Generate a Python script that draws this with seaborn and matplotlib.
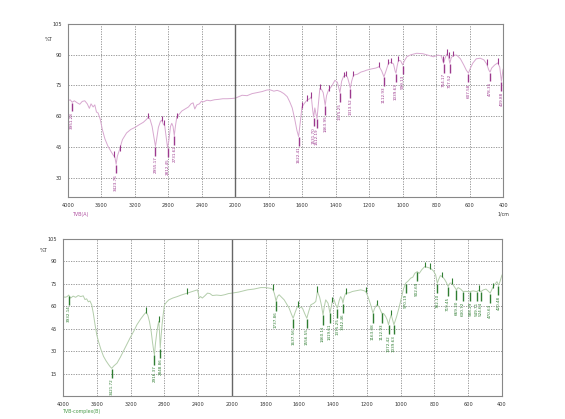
import numpy as np
import seaborn as sns
import matplotlib.pyplot as plt
from matplotlib.ticker import FixedLocator

# ---- top spectrum (pink) ----
top_wn = [4000, 3975, 3950, 3925, 3890, 3860, 3830, 3800, 3770, 3745, 3725, 3700, 3680, 3660,
          3640, 3615, 3590, 3560, 3525, 3490, 3460, 3440, 3425, 3410, 3385, 3350, 3300, 3250,
          3200, 3150, 3100, 3060, 3040, 3020, 2995, 2975, 2955, 2940, 2920, 2895, 2880, 2860,
          2845, 2825, 2810, 2795, 2775, 2760, 2745, 2730, 2715, 2700, 2670, 2640, 2600, 2560,
          2530, 2505, 2485, 2460, 2430, 2405, 2380, 2340, 2300, 2250, 2200, 2150, 2100, 2050,
          2000, 1960, 1930, 1900, 1870, 1840, 1810, 1790, 1770, 1750, 1730, 1710, 1690, 1675,
          1660, 1645, 1632, 1622, 1612, 1602, 1585, 1570, 1555, 1546, 1538, 1532, 1525, 1518,
          1512, 1504, 1495, 1485, 1475, 1463, 1455, 1443, 1425, 1405, 1390, 1375, 1365, 1353,
          1340, 1330, 1318, 1313, 1305, 1294, 1270, 1250, 1230, 1214, 1190, 1160, 1140, 1125,
          1112, 1100, 1085, 1070, 1055, 1045, 1040, 1033, 1025, 1012, 1000, 990, 975, 950, 916,
          880, 850, 816, 790, 770, 760, 755, 748, 737, 726, 718, 710, 697, 677, 655, 635, 620,
          607, 595, 580, 560, 537, 515, 498, 485, 478, 468, 450, 432, 420, 410, 405, 400]
top_t = [67.5, 68.0, 66.8, 67.5, 66.5, 65.8, 67.2, 67.5, 66.0, 63.8, 66.0, 64.5, 65.5, 62.0,
         61.5, 58.5, 53.5, 49.0, 45.5, 43.0, 41.0, 40.0, 36.5, 40.5, 43.5, 48.5, 51.8, 53.5,
         54.5, 55.8, 57.0, 58.5, 59.5, 58.5, 55.0, 50.0, 45.2, 49.0, 54.5, 57.5, 58.0, 56.0,
         55.5, 49.0, 44.5, 48.0, 55.0, 56.5, 55.0, 50.5, 55.5, 59.5, 61.0, 62.5, 63.5, 64.5,
         66.0, 66.5, 63.5, 65.5, 66.0, 67.3, 67.0, 67.8, 67.5, 68.0, 68.2, 68.5, 68.5, 68.6,
         68.8, 70.2, 70.0, 71.0, 71.5, 72.0, 72.8, 72.8, 72.2, 72.6, 72.0, 71.0, 69.5, 67.0,
         64.0, 58.5, 53.0, 50.0, 57.0, 64.5, 66.5, 68.0, 68.5, 69.5, 63.0, 59.5, 64.0, 61.0,
         58.8, 66.0, 73.5, 73.0, 71.5, 65.2, 70.0, 72.8, 74.5, 77.5, 76.5, 71.5, 77.0, 79.5,
         80.0, 79.0, 75.5, 73.5, 77.0, 80.0, 80.5, 81.5, 82.0, 82.5, 83.0, 83.5, 84.2, 82.0,
         79.2, 82.0, 85.8, 86.3, 85.5, 82.0, 81.0, 84.5, 87.3, 87.0, 85.0, 87.0, 89.0, 90.0, 90.7,
         90.5, 89.8, 89.0, 89.8, 89.5, 87.0, 85.8, 88.0, 90.3, 89.0, 85.8, 88.5, 89.8, 89.8, 88.0, 85.0, 82.5,
         81.0, 83.5, 86.0, 88.0, 88.3, 87.5, 85.5, 82.5, 81.5, 83.5, 85.0, 86.0, 84.0, 77.0, 80.0, 83.0]

top_pk_wn = [3950, 3425, 2955, 2810, 2730, 1622, 1532, 1512, 1463, 1375, 1313, 1112, 1040, 1000,
             755, 718, 607, 478, 410]
top_pk_t = [66.8, 36.5, 45.2, 44.5, 50.5, 50.0, 59.5, 58.8, 65.2, 71.5, 73.5, 79.2, 81.0, 85.0,
            85.8, 85.8, 81.0, 81.5, 77.0]
top_pk_txt = ["3951.28", "3423.76", "2955.17", "2812.45", "2731.62", "1622.41", "1531.70",
              "1512.19", "1463.95", "1375.25", "1313.52", "1112.93", "1039.63", "999.13",
              "754.17", "717.52", "607.58", "478.35", "409.88"]
top_tk_wn = [3452, 3381, 3040, 2880, 2855, 2700, 1602, 1572, 1546, 1495, 1443, 1353, 1340, 1294,
             1140, 1085, 1070, 1025, 760, 737, 726, 697, 498, 432]
top_tk_t = [40.5, 43.5, 59.5, 58.0, 56.0, 59.5, 64.5, 68.0, 69.5, 73.5, 72.8, 79.5, 80.0, 80.0,
            84.2, 85.8, 86.3, 87.3, 87.0, 90.3, 89.0, 89.8, 85.5, 86.0]

# ---- bottom spectrum (green) ----
bot_wn = [4000, 3975, 3950, 3932, 3910, 3880, 3850, 3820, 3790, 3760, 3740, 3720, 3700, 3680,
          3660, 3640, 3620, 3600, 3580, 3550, 3520, 3490, 3460, 3440, 3422, 3400, 3360, 3320,
          3284, 3240, 3204, 3160, 3124, 3080, 3040, 3015, 2995, 2975, 2955, 2940, 2925, 2917,
          2905, 2890, 2875, 2866, 2858, 2848, 2838, 2826, 2810, 2797, 2770, 2746, 2700, 2646,
          2600, 2527, 2460, 2407, 2395, 2388, 2370, 2350, 2320, 2288, 2260, 2230, 2180, 2129,
          2080, 2040, 2000, 1960, 1907, 1870, 1829, 1800, 1770, 1758, 1748, 1738, 1730, 1720,
          1705, 1690, 1675, 1661, 1648, 1637, 1625, 1611, 1597, 1582, 1568, 1556, 1545, 1532,
          1515, 1503, 1493, 1480, 1470, 1460, 1452, 1444, 1430, 1419, 1410, 1405, 1395, 1385,
          1375, 1365, 1356, 1348, 1342, 1335, 1326, 1305, 1286, 1260, 1237, 1220, 1207, 1194,
          1178, 1164, 1155, 1142, 1130, 1120, 1113, 1100, 1089, 1080, 1072, 1064, 1056, 1048,
          1040, 1030, 1024, 1010, 996, 985, 971, 955, 941, 928, 916, 902, 890, 875, 858, 840,
          823, 805, 793, 783, 775, 765, 754, 740, 730, 719, 708, 695, 682, 670, 660, 645, 631,
          615, 600, 588, 570, 549, 537, 525, 510, 495, 480, 470, 455, 440, 430, 421, 412, 400]
bot_t = [66.5, 66.0, 66.5, 67.5, 65.5, 66.8, 66.0, 67.2, 66.5, 67.0, 64.5, 65.0, 63.0, 63.5,
         61.0, 55.0, 47.5, 41.0, 36.5, 31.0, 26.5, 23.5, 21.0, 19.5, 18.5, 20.0, 22.0, 26.0,
         30.0, 35.0, 39.0, 43.5, 47.7, 51.5, 54.5, 56.0, 54.0, 49.5, 43.0, 36.0, 30.0, 27.5,
         35.0, 42.0, 47.5, 50.0, 44.0, 32.0, 40.0, 48.0, 56.0, 61.0, 63.0, 64.3, 65.5, 66.5,
         67.5, 68.8, 70.0, 71.0, 68.0, 65.5, 66.5, 65.5, 67.0, 68.8, 68.5, 67.2, 67.5, 67.2,
         67.8, 68.5, 68.8, 69.5, 71.0, 71.5, 72.5, 72.5, 72.0, 71.5, 68.5, 63.5, 66.5, 67.7,
         66.0, 64.3, 61.5, 58.8, 55.0, 52.0, 56.0, 60.0, 59.5, 58.8, 55.0, 52.0, 56.5, 61.0,
         62.0, 63.2, 70.0, 66.0, 61.0, 54.3, 60.0, 64.3, 62.0, 55.5, 60.5, 63.2, 64.5, 61.0,
         58.8, 63.5, 66.5, 65.0, 62.1, 66.0, 68.8, 69.0, 69.9, 70.5, 71.0, 70.5, 69.9, 66.5,
         61.0, 55.5, 58.5, 61.0, 60.0, 57.5, 55.5, 55.0, 53.2, 51.0, 47.7, 51.5, 54.3, 51.0,
         47.7, 51.0, 53.2, 59.0, 65.5, 71.0, 75.4, 77.0, 78.8, 79.5, 82.1, 83.2, 82.0, 84.5, 86.5, 86.0,
         85.4, 83.5, 81.0, 75.4, 78.0, 80.5, 79.9, 78.0, 76.0, 73.2, 75.5, 75.4, 73.0, 71.0, 72.5, 71.5, 69.9,
         70.0, 69.8, 69.9, 70.3, 69.8, 70.8, 69.8, 71.0, 71.5, 70.0, 68.8, 72.5, 75.0, 76.5, 74.0, 76.5, 81.0]

bot_pk_wn = [3932, 3422, 2917, 2848, 1738, 1637, 1556, 1460, 1419, 1375, 1342, 1164, 1113, 1072,
             1040, 971, 902, 783, 719, 670, 631, 588, 549, 525, 470, 421]
bot_pk_t = [67.5, 18.5, 27.5, 32.0, 63.5, 52.0, 52.0, 54.3, 55.5, 58.8, 62.1, 55.5, 55.5, 47.7,
            47.7, 75.4, 83.2, 75.4, 73.2, 71.0, 69.9, 69.9, 69.8, 69.8, 68.8, 74.0]
bot_pk_txt = ["3932.14", "3421.72", "2916.37", "2848.86", "1737.86", "1637.56", "1556.55",
              "1460.11", "1419.61", "1375.25", "1342.46", "1163.08", "1112.93", "1072.42",
              "1039.63", "970.19", "902.69", "782.10", "719.45", "669.30", "630.72", "588.29",
              "549.71", "524.64", "470.63", "420.48"]
bot_tk_wn = [3015, 2866, 2527, 1758, 1611, 1493, 1405, 1326, 1207, 1142, 1056, 858, 829, 754, 695, 537, 455]
bot_tk_t = [56.0, 50.0, 68.8, 71.5, 60.0, 70.0, 63.2, 68.8, 69.9, 61.0, 54.3, 86.5, 85.4, 79.9, 75.4, 70.8, 72.5]

xmajor = [4000, 3600, 3200, 2800, 2400, 2000, 1800, 1600, 1400, 1200, 1000, 800, 600, 400]


def fwd(w):
    w = np.asarray(w, dtype=float)
    return np.where(w < 2000, 2 * w, w + 2000)


def inv(u):
    u = np.asarray(u, dtype=float)
    return np.where(u < 4000, u / 2, u - 2000)


def draw_panel(ax, wn, t, pk_wn, pk_t, pk_txt, tk_wn, tk_t, line_c, lab_c, ylim, yticks, stem):
    sns.lineplot(x=wn, y=t, ax=ax, color=line_c, lw=0.7, sort=False, estimator=None)
    ax.set_xscale('function', functions=(fwd, inv))
    ax.set_xlim(4000, 400)
    ax.set_ylim(*ylim)

    # labelled peaks
    for w, v, s in zip(pk_wn, pk_t, pk_txt):
        ax.vlines(w, v - stem, v - 0.3, color=lab_c, lw=1.0)
        ax.text(w, v - stem - 0.4, s, rotation=90, ha='center', va='top',
                fontsize=3, color=lab_c)
    # tick-only marks
    for w, v in zip(tk_wn, tk_t):
        ax.vlines(w, v - 0.4, v + stem * 0.5, color=lab_c, lw=0.8)

    ax.xaxis.set_major_locator(FixedLocator(xmajor))
    ax.set_xticklabels([str(x) for x in xmajor])
    minors = list(np.arange(2100, 4000, 100)) + list(np.arange(450, 2000, 50))
    ax.xaxis.set_minor_locator(FixedLocator(minors))
    ax.set_yticks(yticks)
    ax.set_yticklabels([str(y) for y in yticks])
    ax.yaxis.set_minor_locator(FixedLocator(np.arange(ylim[1] - 3, ylim[0], -3)))

    ax.grid(True, which='major', color='#8a8a8a', lw=0.6, linestyle=(0, (1.5, 1.5)))
    ax.axvline(2000, color='#666666', lw=1.0)
    ax.tick_params(axis='both', which='major', labelsize=3.6, length=3, width=0.6,
                   colors='#555555', labelcolor='#333333', pad=1.5)
    ax.tick_params(axis='both', which='minor', length=1.6, width=0.5, colors='#555555')
    for sp in ax.spines.values():
        sp.set_color('#888888')
        sp.set_linewidth(0.8)
    ax.set_xlabel('')
    ax.set_ylabel('')
    ax.text(-0.045, 97.5, '%T', transform=ax.get_yaxis_transform(), fontsize=3.6,
            color='#333333', ha='center', va='center')


sns.set_style("white")
fig = plt.figure(figsize=(5.65, 4.19), dpi=100)

ax1 = fig.add_axes([0.1204, 0.5298, 0.770, 0.4129])
draw_panel(ax1, top_wn, top_t, top_pk_wn, top_pk_t, top_pk_txt, top_tk_wn, top_tk_t,
           '#d8a8d0', '#9c3a8e', (20.5, 105), [105, 90, 75, 60, 45, 30], 4.5)
ax1.text(1.0, -0.085, '1/cm', transform=ax1.transAxes, fontsize=3.4, color='#333333',
         ha='center', va='top')
ax1.text(0.012, -0.085, 'TVB(A)', transform=ax1.transAxes, fontsize=3.4, color='#b050a0',
         ha='left', va='top')

ax2 = fig.add_axes([0.1115, 0.0549, 0.777, 0.3747])
draw_panel(ax2, bot_wn, bot_t, bot_pk_wn, bot_pk_t, bot_pk_txt, bot_tk_wn, bot_tk_t,
           '#b3cdab', '#2f7d32', (0, 105), [105, 90, 75, 60, 45, 30, 15], 6.5)
ax2.text(0.0, -0.085, 'TVB-complex(B)', transform=ax2.transAxes, fontsize=3.4,
         color='#4a9a4a', ha='left', va='top')

fig.savefig('out.png', dpi=100, facecolor='white')
